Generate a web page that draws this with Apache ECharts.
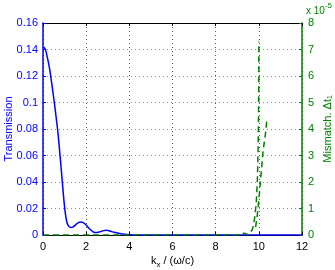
<!DOCTYPE html>
<html><head><meta charset="utf-8">
<script src="https://cdn.jsdelivr.net/npm/echarts@6/dist/echarts.min.js"></script>
<style>html,body{margin:0;padding:0;background:#fff}#c{width:335px;height:270px}</style>
</head><body><div id="c"></div>
<script>
// Transmission vs kx (units of omega/c)
const transKx = [0,0.1,0.2,0.3,0.4,0.5,0.6,0.7,0.8,0.9,1.0,1.1,1.2,1.3,1.4,1.5,1.6,1.75,1.9,2.0,2.2,2.4,2.6,2.8,2.95,3.1,3.3,3.6,3.9,4.2,6,8,10,12];
const transVal = [0.142,0.1405,0.134,0.126,0.115,0.103,0.090,0.076,0.058,0.039,0.021,0.010,0.0065,0.0057,0.0062,0.0075,0.009,0.0098,0.009,0.0075,0.004,0.0018,0.0022,0.0033,0.0036,0.003,0.002,0.001,0.0003,0,0,0,0,0];
// Mismatch (x 1e-5), main branch
const misKxA = [0,2,4,6,8,9.0,9.15,9.3,9.4,9.5,9.58,9.7,9.8,9.88,9.93,9.96,9.98,9.99,10.0,10.0];
const misValA = [0,0,0,0,0,0,0.02,0.07,0.05,0.01,0,0.2,0.6,1.2,2,3,4,5,6,7.3];
// Mismatch (x 1e-5), second branch
const misKxB = [9.85,9.93,10.02,10.1,10.2,10.3,10.38];
const misValB = [0.3,0.76,1.5,2.27,3.2,3.77,4.41];
const xTicks = [0,2,4,6,8,10,12];

const zip = (a,b)=>a.map((v,i)=>[v,b[i]]);
const FONT = 'Liberation Sans';
const BLUE = '#0000ff', GREEN = '#008000';
const chart = echarts.init(document.getElementById('c'));
chart.setOption({
  animation:false,
  textStyle:{fontFamily:FONT},
  grid:{left:43,right:33,top:23,bottom:35,containLabel:false,outerBoundsMode:'none'},
  xAxis:[{
    type:'value',min:xTicks[0],max:xTicks[xTicks.length-1],interval:2,
    axisLine:{onZero:false,lineStyle:{color:'#000',width:1}},
    axisTick:{inside:true,length:3,lineStyle:{color:'#000'}},
    axisLabel:{color:'#000',fontSize:11,margin:6,fontFamily:FONT},
    splitLine:{show:true,lineStyle:{color:'#555',type:[1,3],width:1}},
    name:'{a|k}{s|x}{a| / (ω/c)}',nameLocation:'middle',nameGap:18,nameMoveOverlap:false,
    nameTextStyle:{rich:{a:{fontSize:11,color:'#000',fontFamily:FONT},s:{fontSize:8,color:'#000',fontFamily:FONT,verticalAlign:'bottom',padding:[8,0,0,0]}}}
  },{
    type:'value',position:'top',min:0,max:12,interval:2,
    axisLine:{onZero:false,lineStyle:{color:'#000',width:1}},
    axisTick:{inside:true,length:3,lineStyle:{color:'#000'}},
    axisLabel:{show:false},splitLine:{show:false}
  }],
  yAxis:[{
    type:'value',min:0,max:0.16,interval:0.02,
    axisLine:{show:true,onZero:false,lineStyle:{color:BLUE,width:1.5}},
    axisTick:{show:true,inside:true,length:3,lineStyle:{color:BLUE}},
    axisLabel:{color:BLUE,fontSize:11,margin:5,fontFamily:FONT},
    splitLine:{show:true,lineStyle:{color:'#7a7aff',type:[1,3],width:1}},
    name:'Transmission',nameLocation:'middle',nameGap:29,nameRotate:90,nameMoveOverlap:false,
    nameTextStyle:{color:BLUE,fontSize:11,fontFamily:FONT}
  },{
    type:'value',position:'right',min:0,max:8,interval:1,
    axisLine:{show:true,onZero:false,lineStyle:{color:GREEN,width:1.5}},
    axisTick:{show:true,inside:true,length:3,lineStyle:{color:GREEN}},
    axisLabel:{color:GREEN,fontSize:11,margin:6,fontFamily:FONT},
    splitLine:{show:false},
    name:'Mismatch. Δt₁',nameLocation:'middle',nameGap:20,nameRotate:90,nameMoveOverlap:false,
    nameTextStyle:{color:GREEN,fontSize:11,fontFamily:FONT}
  }],
  graphic:[{
    type:'text',left:306,top:2,
    style:{text:'{a|x 10}{s|-5}',rich:{a:{fontSize:10,fill:GREEN,fontFamily:FONT,padding:[4,0,0,0]},s:{fontSize:8,fill:GREEN,fontFamily:FONT,verticalAlign:'top'}}}
  }],
  series:[{
    type:'line',xAxisIndex:0,yAxisIndex:0,data:zip(transKx,transVal),
    showSymbol:false,smooth:0.3,lineStyle:{color:BLUE,width:1.5},z:3
  },{
    type:'line',xAxisIndex:0,yAxisIndex:1,data:zip(misKxA,misValA),
    showSymbol:false,lineStyle:{color:GREEN,width:1.5,type:[6,4]},z:4
  },{
    type:'line',xAxisIndex:0,yAxisIndex:1,data:zip(misKxB,misValB),
    showSymbol:false,lineStyle:{color:GREEN,width:1.5,type:[6,4]},z:4
  }]
});
</script></body></html>
